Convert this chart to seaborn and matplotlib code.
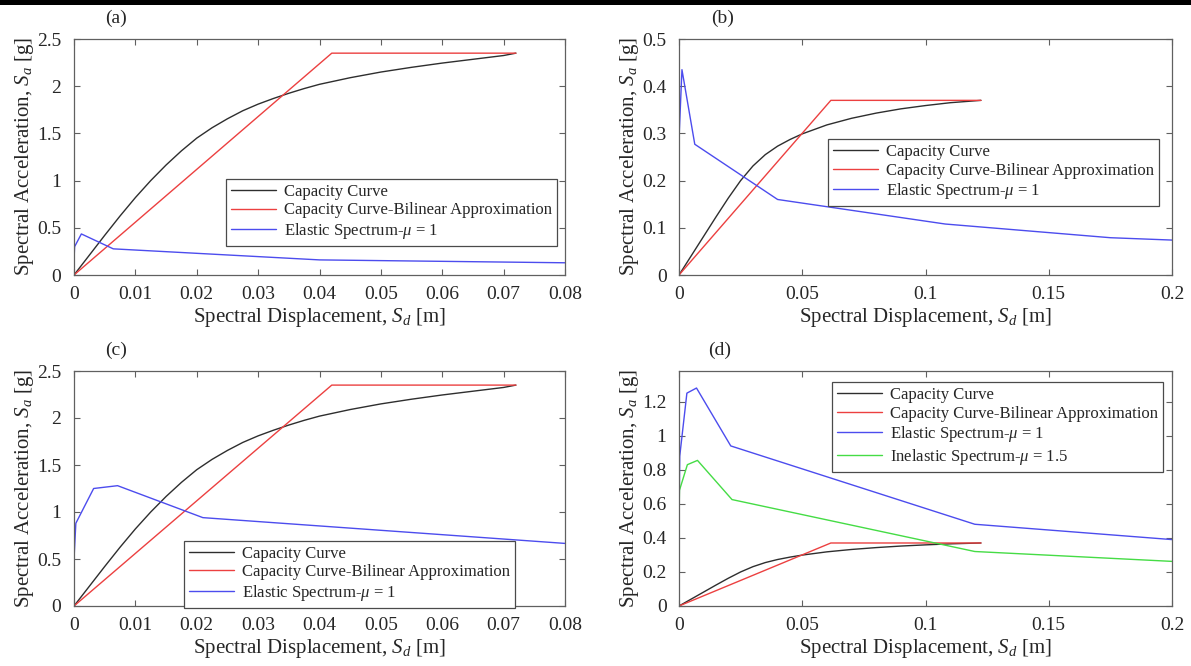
import numpy as np
import pandas as pd
import matplotlib
matplotlib.use("Agg")
import matplotlib.pyplot as plt
from matplotlib.ticker import FuncFormatter
from matplotlib.patches import Rectangle
import seaborn as sns

# Capacity curve and its bilinear idealisation, building model 1 (panels a, c)
cap1_sd = [0, 0.0025, 0.005, 0.0075, 0.01, 0.0125, 0.015, 0.0175, 0.02, 0.0225,
           0.025, 0.0275, 0.03, 0.0325, 0.035, 0.0375, 0.04, 0.045, 0.05, 0.055,
           0.06, 0.065, 0.07, 0.072]
cap1_sa = [0, 0.21, 0.42, 0.625, 0.82, 1.0, 1.165, 1.315, 1.45, 1.56,
           1.655, 1.74, 1.81, 1.87, 1.925, 1.975, 2.02, 2.09, 2.15, 2.2,
           2.245, 2.285, 2.325, 2.35]
bil1_sd = [0, 0.042, 0.072]
bil1_sa = [0, 2.35, 2.35]

# Capacity curve and its bilinear idealisation, building model 2 (panels b, d)
cap2_sd = [0, 0.005, 0.01, 0.015, 0.02, 0.025, 0.03, 0.035, 0.04, 0.045, 0.05,
           0.06, 0.07, 0.08, 0.09, 0.1, 0.11, 0.1225]
cap2_sa = [0, 0.041, 0.082, 0.123, 0.163, 0.2, 0.231, 0.255, 0.273, 0.287,
           0.299, 0.318, 0.332, 0.343, 0.352, 0.359, 0.365, 0.37]
bil2_sd = [0, 0.0616, 0.1225]
bil2_sa = [0, 0.37, 0.37]

# Elastic demand spectrum, low hazard level (panels a, b)
el1_sd = [0, 0.0001, 0.0012, 0.0064, 0.040, 0.108, 0.175, 0.2]
el1_sa = [0.16, 0.30, 0.435, 0.277, 0.160, 0.108, 0.079, 0.074]

# Elastic demand spectrum, high hazard level (panels c, d)
el2_sd = [0, 0.0003, 0.0032, 0.0071, 0.021, 0.12, 0.2]
el2_sa = [0.50, 0.88, 1.25, 1.28, 0.94, 0.48, 0.39]

# Inelastic demand spectrum, ductility 1.5 (panel d)
inel_sd = [0, 0.0002, 0.0034, 0.0075, 0.0215, 0.12, 0.2]
inel_sa = [0.52, 0.68, 0.83, 0.855, 0.625, 0.32, 0.262]

lbl_cap = "Capacity Curve"
lbl_bil = "Capacity Curve-Bilinear Approximation"
lbl_el = r"Elastic Spectrum-$\mu$ = 1"
lbl_inel = r"Inelastic Spectrum-$\mu$ = 1.5"

panel_tags = ["(a)", "(b)", "(c)", "(d)"]

x_ticks_1 = [0, 0.01, 0.02, 0.03, 0.04, 0.05, 0.06, 0.07, 0.08]
x_ticks_2 = [0, 0.05, 0.1, 0.15, 0.2]
y_ticks_a = [0, 0.5, 1, 1.5, 2, 2.5]
y_ticks_b = [0, 0.1, 0.2, 0.3, 0.4, 0.5]
y_ticks_d = [0, 0.2, 0.4, 0.6, 0.8, 1, 1.2]

sns.set_theme(style="ticks")
plt.rcParams["font.family"] = ["Liberation Serif", "DejaVu Serif"]
plt.rcParams["mathtext.fontset"] = "custom"
plt.rcParams["mathtext.rm"] = "Liberation Serif"
plt.rcParams["mathtext.it"] = "Liberation Serif:italic"
plt.rcParams["xtick.direction"] = "in"
plt.rcParams["ytick.direction"] = "in"

COL_CAP = "#2e2e2e"
COL_BIL = "#ec4040"
COL_EL = "#4c4cee"
COL_INEL = "#45dc45"
SPINE = "#606060"
TXT = "#262626"

fig = plt.figure(figsize=(11.91, 6.66), dpi=100)
fig.patch.set_facecolor("white")
fig.patches.append(Rectangle((0, 1 - 5 / 666), 1, 5 / 666, transform=fig.transFigure,
                             facecolor="black", edgecolor="none", zorder=10))

W, H = 1191, 666
boxes = [(74, 39, 565, 275), (679, 39, 1172, 275),
         (74, 371, 565, 606), (679, 371, 1172, 606)]


def make_ax(box):
    x0, y0, x1, y1 = box
    return fig.add_axes([x0 / W, 1 - y1 / H, (x1 - x0) / W, (y1 - y0) / H])


def series(ax, xs, ys, color, label):
    df = pd.DataFrame({"Sd": xs, "Sa": ys})
    sns.lineplot(data=df, x="Sd", y="Sa", ax=ax, color=color, lw=1.0,
                 sort=False, estimator=None, label=label)


fmt = FuncFormatter(lambda v, p: f"{v:g}")

panels = [
    dict(series=[(cap1_sd, cap1_sa, COL_CAP, lbl_cap), (bil1_sd, bil1_sa, COL_BIL, lbl_bil),
                 (el1_sd, el1_sa, COL_EL, lbl_el)],
         xlim=(0, 0.08), ylim=(0, 2.5), xt=x_ticks_1, yt=y_ticks_a, leg=(0.31, 0.407)),
    dict(series=[(cap2_sd, cap2_sa, COL_CAP, lbl_cap), (bil2_sd, bil2_sa, COL_BIL, lbl_bil),
                 (el1_sd, el1_sa, COL_EL, lbl_el)],
         xlim=(0, 0.2), ylim=(0, 0.5), xt=x_ticks_2, yt=y_ticks_b, leg=(0.303, 0.575)),
    dict(series=[(cap1_sd, cap1_sa, COL_CAP, lbl_cap), (bil1_sd, bil1_sa, COL_BIL, lbl_bil),
                 (el2_sd, el2_sa, COL_EL, lbl_el)],
         xlim=(0, 0.08), ylim=(0, 2.5), xt=x_ticks_1, yt=y_ticks_a, leg=(0.225, 0.278)),
    dict(series=[(cap2_sd, cap2_sa, COL_CAP, lbl_cap), (bil2_sd, bil2_sa, COL_BIL, lbl_bil),
                 (el2_sd, el2_sa, COL_EL, lbl_el), (inel_sd, inel_sa, COL_INEL, lbl_inel)],
         xlim=(0, 0.2), ylim=(0, 1.38), xt=x_ticks_2, yt=y_ticks_d, leg=(0.311, 0.952)),
]

tag_pos = [(116, 18), (723, 18), (116, 350), (720, 350)]

for i, (box, p) in enumerate(zip(boxes, panels)):
    ax = make_ax(box)
    for xs, ys, c, lab in p["series"]:
        series(ax, xs, ys, c, lab)
    ax.set_xlim(*p["xlim"])
    ax.set_ylim(*p["ylim"])
    ax.set_xticks(p["xt"])
    ax.set_yticks(p["yt"])
    ax.xaxis.set_major_formatter(fmt)
    ax.yaxis.set_major_formatter(fmt)
    ax.tick_params(axis="both", which="both", top=True, right=True, length=4.5,
                   width=0.8, color=SPINE, labelsize=14, labelcolor=TXT)
    ax.tick_params(axis="x", pad=8)
    ax.tick_params(axis="y", pad=9)
    for s in ax.spines.values():
        s.set_color(SPINE)
        s.set_linewidth(0.9)
    ax.set_xlabel(r"Spectral Displacement, $S_d$ [m]", fontsize=15, color=TXT, labelpad=2)
    ax.set_ylabel(r"Spectral Acceleration, $S_a$ [g]", fontsize=15, color=TXT, labelpad=1)
    leg = ax.legend(loc="upper left", bbox_to_anchor=p["leg"], borderaxespad=0,
                    fontsize=12, frameon=True, fancybox=False, framealpha=1,
                    edgecolor="#4a4a4a", handlelength=2.7, handletextpad=0.45,
                    labelspacing=0.15, borderpad=0.3)
    leg.get_frame().set_linewidth(0.9)
    fig.text(tag_pos[i][0] / W, 1 - tag_pos[i][1] / H, panel_tags[i], fontsize=14,
             ha="center", va="center", color=TXT)

fig.savefig("out.png", dpi=100, facecolor="white")
